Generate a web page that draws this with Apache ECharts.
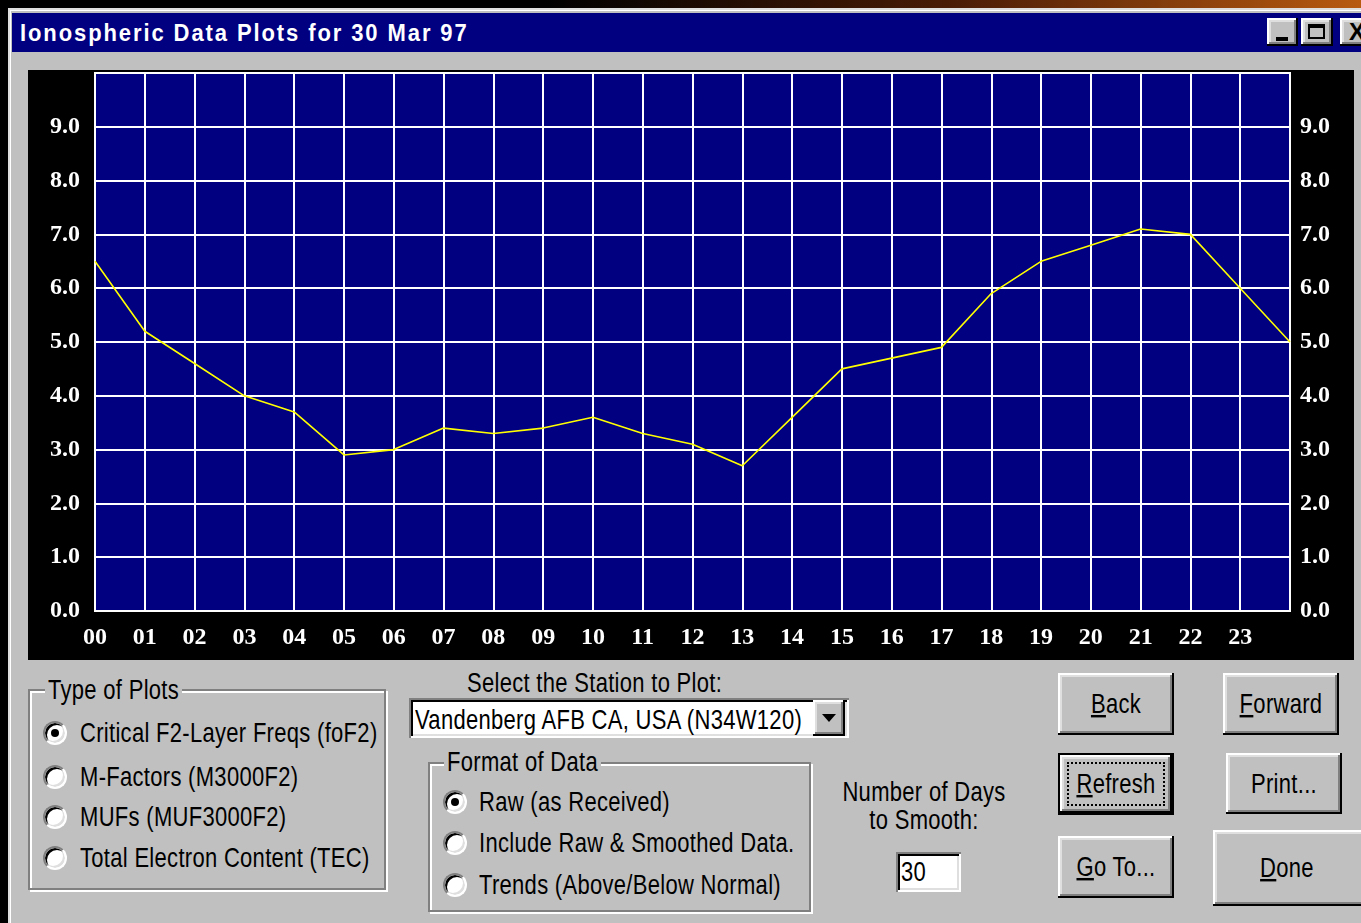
<!DOCTYPE html>
<html><head><meta charset="utf-8">
<script src="https://cdn.jsdelivr.net/npm/echarts@6/dist/echarts.min.js"></script>
<style>
html,body{margin:0;padding:0;width:1361px;height:923px;overflow:hidden;background:#000;}
div,span{position:absolute;box-sizing:border-box;}
#topstrip{left:0;top:0;width:1361px;height:8px;background:linear-gradient(to right,#000 0%,#000 40%,#4a1c06 70%,#b85a10 100%);}
#dlg{left:8px;top:8px;width:1353px;height:915px;background:#c0c0c0;box-shadow:inset 2px 2px #dfdfdf, inset 3px 3px #fff;}
#titlebar{left:12px;top:13px;width:1349px;height:39px;background:#000080;}
#title{left:20px;top:13px;height:39px;color:#fff;font:bold 22px 'Liberation Sans',Arial,sans-serif;line-height:40px;letter-spacing:1.9px;white-space:nowrap;transform:scaleY(1.1);transform-origin:50% 50%;}
.ui{font-family:'Liberation Sans',Arial,sans-serif;font-size:22px;letter-spacing:0.3px;color:#000;white-space:nowrap;}
.t{transform:scaleY(1.22);transform-origin:50% 50%;}
.raised{background:#c0c0c0;box-shadow:inset -2px -2px #000, inset 2px 2px #fff, inset -4px -4px #808080, inset 4px 4px #dfdfdf;}
.sunken{background:#fff;box-shadow:inset 2px 2px #808080, inset -2px -2px #fff, inset 4px 4px #000, inset -4px -4px #dfdfdf;}
.btn{display:flex;align-items:center;justify-content:center;}
.btn span{position:static;display:inline-block;transform:scaleY(1.22);}
.group{border:2px solid #808080;box-shadow:2px 2px 0 #fff, inset 2px 2px 0 #fff;}
.glabel{background:#c0c0c0;padding:0 3px;height:32px;line-height:32px;}
.radio{width:24px;height:24px;border-radius:50%;background:#fff;border:2px solid;border-color:#808080 #fff #fff #808080;box-shadow:inset 2px 2px #000, inset -2px -2px #dfdfdf;}
.radio.on::after{content:'';position:absolute;left:6px;top:6px;width:8px;height:8px;border-radius:50%;background:#000;}
.rtext{height:32px;line-height:32px;}
#chart{left:28px;top:70px;width:1326px;height:590px;background:#000;}
u{text-decoration:underline;text-underline-offset:2px;}
</style></head>
<body>
<div id="topstrip"></div>
<div id="dlg"></div>
<div id="titlebar"></div>
<div id="title">Ionospheric Data Plots for 30 Mar 97</div>
<div class="raised" style="left:1267px;top:18px;width:31px;height:28px;"><div style="left:9px;top:19px;width:12px;height:4px;background:#000;"></div></div>
<div class="raised" style="left:1301px;top:18px;width:32px;height:28px;"><div style="left:7px;top:6px;width:17px;height:15px;border:2px solid #000;border-top-width:4px;"></div></div>
<div class="raised" style="left:1340px;top:18px;width:32px;height:28px;"><div style="left:5px;top:0;width:24px;height:28px;font:bold 24px 'Liberation Sans',Arial;line-height:28px;text-align:center;">X</div></div>

<div id="chart"></div>

<!-- Type of plots -->
<div class="group" style="left:28px;top:689px;width:358px;height:201px;"></div>
<div class="ui glabel t" style="left:45px;top:674px;">Type of Plots</div>
<div class="radio on" style="left:43px;top:721px;"></div>
<div class="ui rtext t" style="left:80px;top:717px;">Critical F2-Layer Freqs (foF2)</div>
<div class="radio" style="left:43px;top:765px;"></div>
<div class="ui rtext t" style="left:80px;top:761px;">M-Factors (M3000F2)</div>
<div class="radio" style="left:43px;top:805px;"></div>
<div class="ui rtext t" style="left:80px;top:801px;">MUFs (MUF3000F2)</div>
<div class="radio" style="left:43px;top:846px;"></div>
<div class="ui rtext t" style="left:80px;top:842px;">Total Electron Content (TEC)</div>

<!-- Station -->
<div class="ui rtext t" style="left:467px;top:667px;">Select the Station to Plot:</div>
<div class="sunken" style="left:409px;top:698px;width:440px;height:40px;"></div>
<div class="ui rtext t" style="left:415px;top:704px;">Vandenberg AFB CA, USA (N34W120)</div>
<div class="raised" style="left:813px;top:700px;width:32px;height:36px;"><div style="left:9px;top:14px;width:0;height:0;border-left:7px solid transparent;border-right:7px solid transparent;border-top:8px solid #000;"></div></div>

<!-- Format of data -->
<div class="group" style="left:428px;top:762px;width:383px;height:150px;"></div>
<div class="ui glabel t" style="left:444px;top:746px;">Format of Data</div>
<div class="radio on" style="left:443px;top:790px;"></div>
<div class="ui rtext t" style="left:479px;top:786px;">Raw (as Received)</div>
<div class="radio" style="left:443px;top:831px;"></div>
<div class="ui rtext t" style="left:479px;top:827px;">Include Raw &amp; Smoothed Data.</div>
<div class="radio" style="left:443px;top:873px;"></div>
<div class="ui rtext t" style="left:479px;top:869px;">Trends (Above/Below Normal)</div>

<!-- Smoothing -->
<div class="ui rtext t" style="left:824px;top:776px;width:200px;text-align:center;">Number of Days</div>
<div class="ui rtext t" style="left:824px;top:804px;width:200px;text-align:center;">to Smooth:</div>
<div class="sunken" style="left:896px;top:852px;width:65px;height:40px;"></div>
<div class="ui rtext t" style="left:901px;top:856px;">30</div>

<!-- Buttons -->
<div class="raised btn ui" style="left:1058px;top:673px;width:116px;height:62px;"><span><u>B</u>ack</span></div>
<div class="raised btn ui" style="left:1223px;top:673px;width:116px;height:62px;"><span><u>F</u>orward</span></div>
<div class="btn ui" style="left:1058px;top:753px;width:116px;height:62px;border:2px solid #000;background:#c0c0c0;box-shadow:inset -2px -2px #000, inset 2px 2px #fff, inset -4px -4px #808080, inset 4px 4px #dfdfdf;"><div style="left:7px;top:7px;width:98px;height:44px;border:2px dotted #000;"></div><span><u>R</u>efresh</span></div>
<div class="raised btn ui" style="left:1226px;top:753px;width:116px;height:61px;"><span>Print...</span></div>
<div class="raised btn ui" style="left:1058px;top:836px;width:116px;height:62px;"><span><u>G</u>o To...</span></div>
<div class="raised btn ui" style="left:1213px;top:830px;width:160px;height:76px;"><span style="margin-right:12px;"><u>D</u>one</span></div>

<script>
// Hours of the day (UT) and the foF2 values (MHz)
const hours = [0,1,2,3,4,5,6,7,8,9,10,11,12,13,14,15,16,17,18,19,20,21,22,23,24];
const foF2 = [6.5,5.2,4.6,4.0,3.7,2.9,3.0,3.4,3.3,3.4,3.6,3.3,3.1,2.7,3.6,4.5,4.7,4.9,5.9,6.5,6.8,7.1,7.0,6.0,5.0];
const hourLabels = ['00','01','02','03','04','05','06','07','08','09','10','11','12','13','14','15','16','17','18','19','20','21','22','23'];
const yTickLabels = ['0.0','1.0','2.0','3.0','4.0','5.0','6.0','7.0','8.0','9.0'];

const chart = echarts.init(document.getElementById('chart'), null, {renderer:'canvas'});
const labelFont = {color:'#fff', fontFamily:"'Liberation Serif','Times New Roman',serif", fontWeight:'bold', fontSize:24};
const yAxisBase = {
  type:'value', min:0, max:10, interval:1,
  axisLine:{show:false}, axisTick:{show:false}
};
chart.setOption({
  animation:false,
  backgroundColor:'#000',
  grid:{left:67, top:3, width:1195, height:538, show:true, backgroundColor:'#000080', borderColor:'#fff', borderWidth:2},
  xAxis:{
    type:'value', min:0, max:24, interval:1,
    axisLine:{show:false}, axisTick:{show:false},
    splitLine:{show:true, lineStyle:{color:'#fff', width:2}},
    axisLabel:Object.assign({margin:15, formatter:v => hourLabels[v] || ''}, labelFont)
  },
  yAxis:[
    Object.assign({}, yAxisBase, {position:'left',
      splitLine:{show:true, lineStyle:{color:'#fff', width:2}},
      axisLabel:Object.assign({margin:15, formatter:v => yTickLabels[Math.round(v)] || ''}, labelFont)}),
    Object.assign({}, yAxisBase, {position:'right',
      splitLine:{show:false},
      axisLabel:Object.assign({margin:10, formatter:v => yTickLabels[Math.round(v)] || ''}, labelFont)})
  ],
  series:[{
    type:'line', data:hours.map((h,i)=>[h,foF2[i]]),
    symbol:'none', lineStyle:{color:'#ffff00', width:1.6}, z:5
  }]
});
</script>
</body></html>
